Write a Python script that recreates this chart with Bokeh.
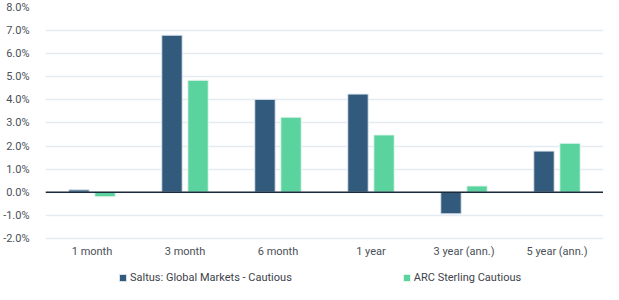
from bokeh.plotting import figure
from bokeh.models import ColumnDataSource, Span, Legend, LegendItem, PrintfTickFormatter, FixedTicker
from bokeh.core.properties import value
from bokeh.transform import dodge
from bokeh.embed import file_html
from bokeh.resources import INLINE

categories = ["1 month", "3 month", "6 month", "1 year", "3 year (ann.)", "5 year (ann.)"]
saltus = [0.1, 6.8, 4.02, 4.25, -0.94, 1.78]
arc = [-0.2, 4.85, 3.25, 2.48, 0.27, 2.12]
y_ticks = [-2, -1, 0, 1, 2, 3, 4, 5, 6, 7, 8]

src = ColumnDataSource(data=dict(cat=categories, saltus=saltus, arc=arc))

p = figure(x_range=categories, y_range=(-4.0, 8), width=603, height=284,
           output_backend="svg", toolbar_location=None,
           min_border_left=6, min_border_right=0, min_border_top=7, min_border_bottom=0)

blue = "#325a7d"
green = "#5bd39f"
r1 = p.vbar(x=dodge("cat", -0.14, range=p.x_range), top="saltus", width=0.22, source=src,
            fill_color=blue, line_color="#dfe8f0", line_width=1)
r2 = p.vbar(x=dodge("cat", 0.14, range=p.x_range), top="arc", width=0.22, source=src,
            fill_color=green, line_color="#e8f7ef", line_width=1)

# category labels drawn inside the frame, below the -2% gridline
p.text(x="cat", y=value(-2.56), text="cat", source=src,
       text_font=value("Roboto"), text_font_size="11px", text_color="#4a4f57",
       text_align="center", text_baseline="middle")

p.add_layout(Span(location=0, dimension="width", line_color="#1c2b3a", line_width=1.5))

p.outline_line_color = None
p.xgrid.grid_line_color = None
p.ygrid.grid_line_color = "#e4ebf3"
p.ygrid.grid_line_width = 1.5
p.xaxis.visible = False

p.yaxis.ticker = FixedTicker(ticks=y_ticks)
p.yaxis.formatter = PrintfTickFormatter(format="%.1f%%")
ax = p.yaxis[0]
ax.axis_line_color = None
ax.major_tick_line_color = None
ax.minor_tick_line_color = None
ax.major_label_text_font = "Roboto"
ax.major_label_text_font_size = "11px"
ax.major_label_text_color = "#4a4f57"
ax.major_label_standoff = 10

legend = Legend(items=[LegendItem(label="Saltus: Global Markets - Cautious", renderers=[r1]),
                       LegendItem(label="ARC Sterling Cautious", renderers=[r2])],
                orientation="horizontal", location=(73, 0),
                label_text_font="Roboto", label_text_font_size="11px", label_text_color="#3d434b",
                glyph_width=9, glyph_height=9, spacing=110, label_standoff=3,
                border_line_color=None, background_fill_alpha=0, margin=0, padding=1)
p.add_layout(legend, "center")

open("out.html", "w").write(file_html(p, INLINE))
